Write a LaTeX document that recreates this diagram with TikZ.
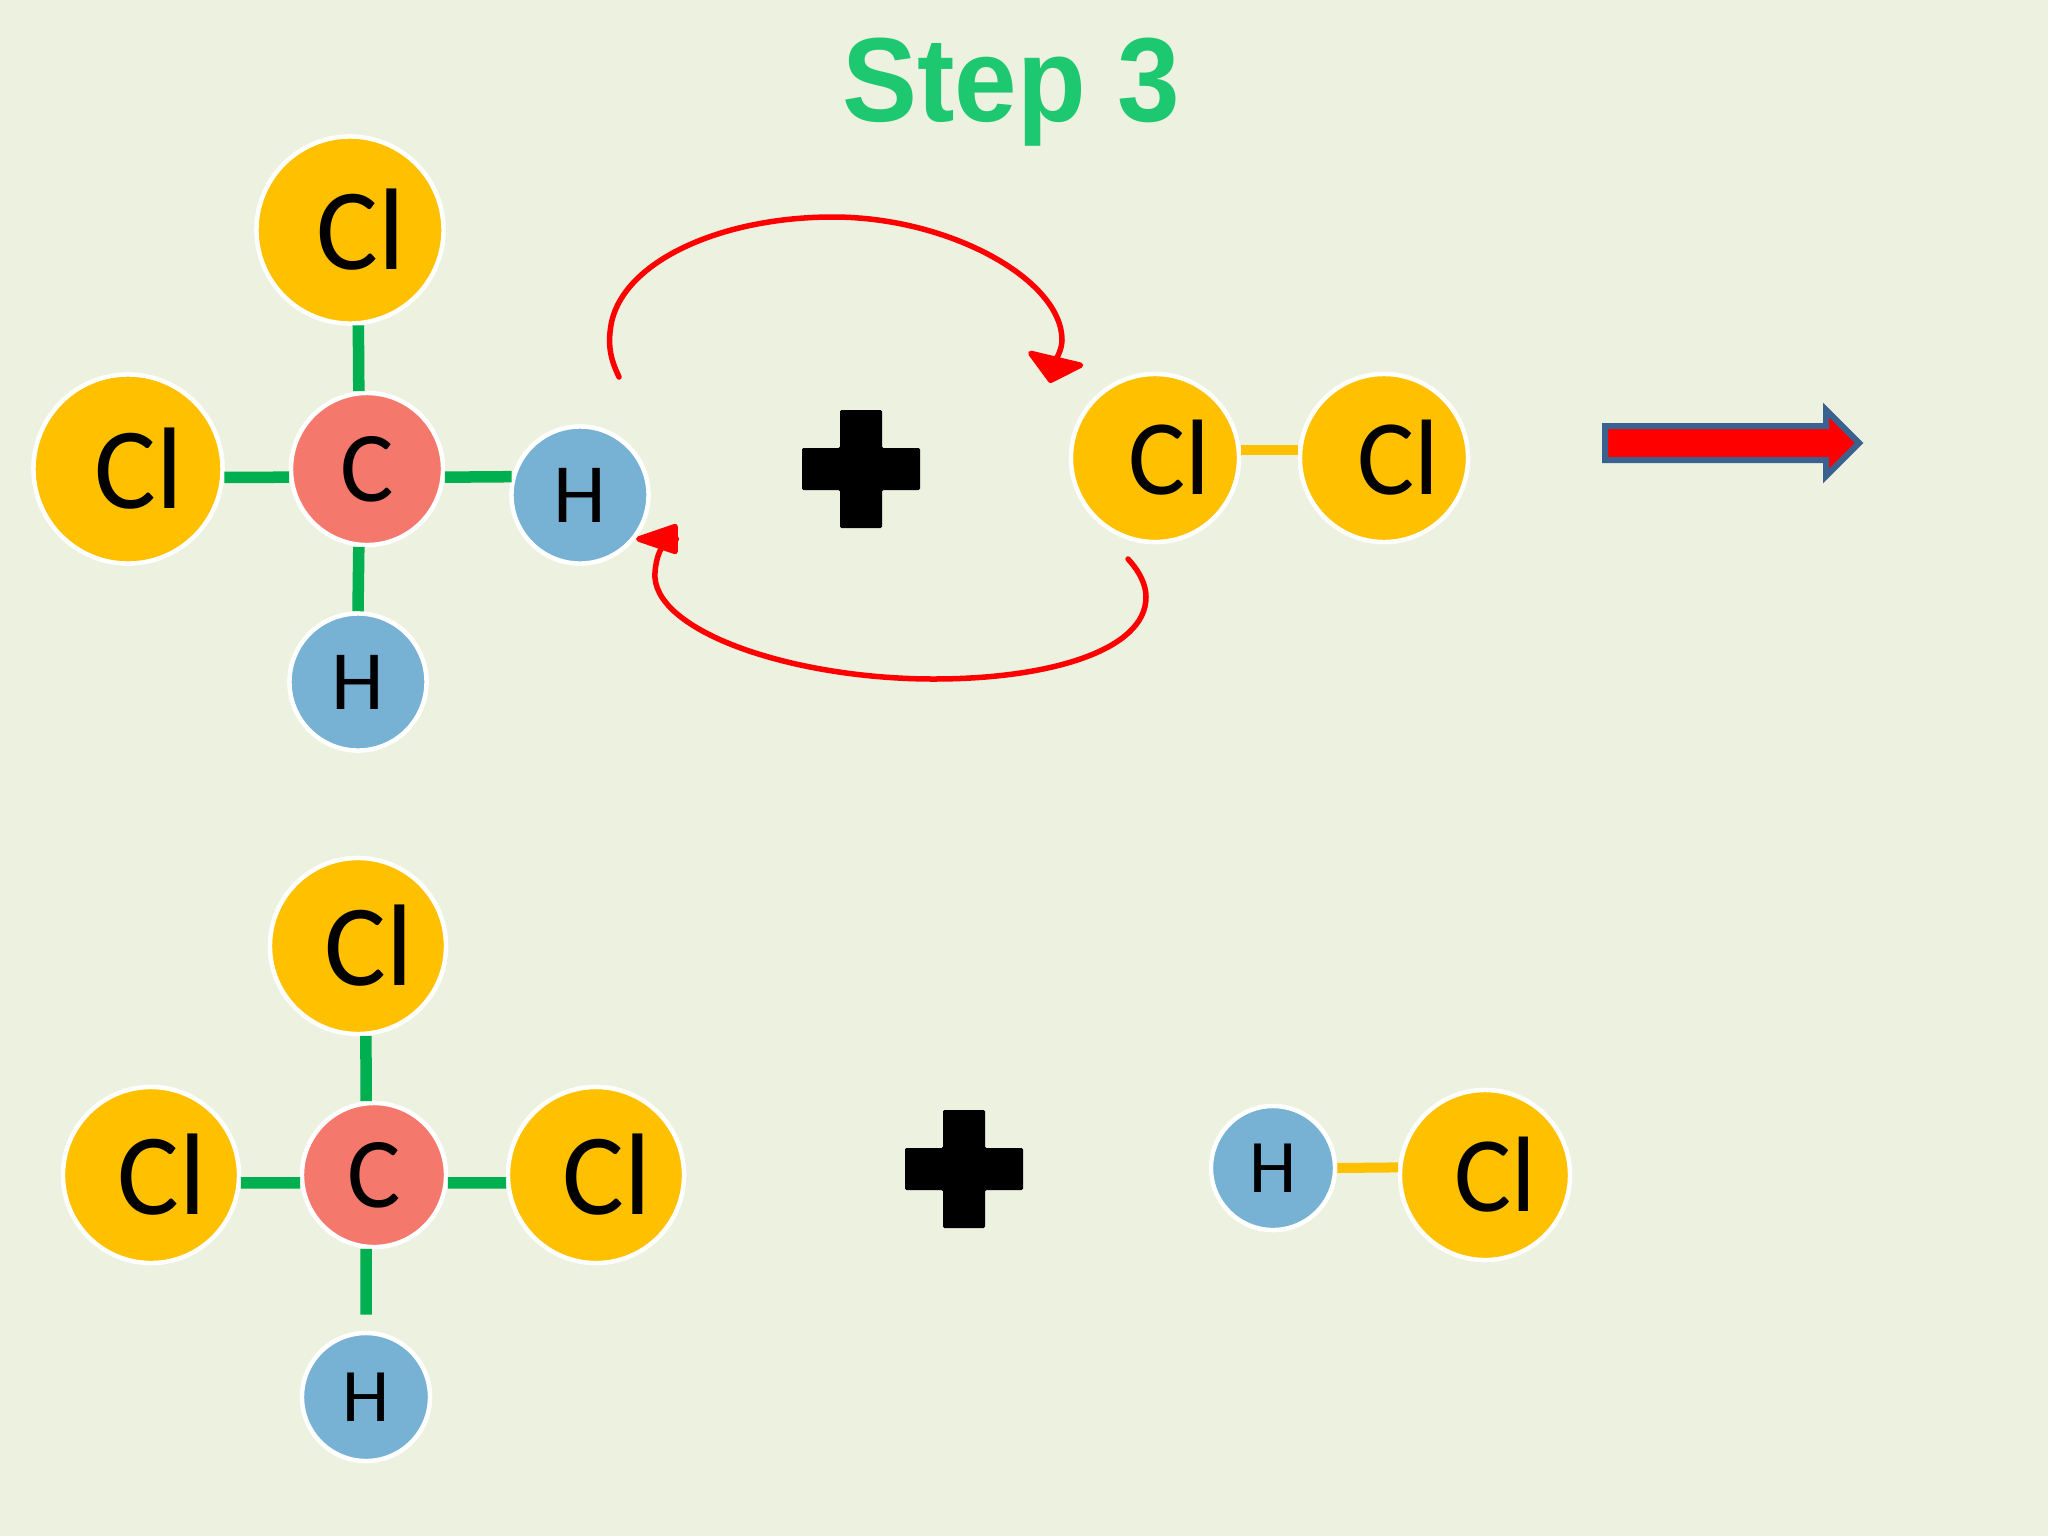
\documentclass[tikz,border=0pt]{standalone}
\usepackage{fontspec}
\setmainfont{Carlito}
\newfontfamily\titlefont{Liberation Sans}
\usepackage{xcolor}
\usetikzlibrary{
  arrows.meta
}
\definecolor{slidebg}{RGB}{237,241,223}
\definecolor{chlorinegold}{RGB}{255,192,0}
\definecolor{carbonred}{RGB}{244,121,108}
\definecolor{hydrogenblue}{RGB}{119,177,211}
\definecolor{bondgreen}{RGB}{0,176,80}
\definecolor{titlegreen}{RGB}{30,200,112}
\definecolor{edgeblue}{RGB}{58,98,145}
\tikzset{
  atom/.style={
    circle,
    draw=white,
    line width=0.045cm,
    text=black,
    inner sep=0pt
  },
  clatom/.style={atom,fill=chlorinegold,font=\fontsize{33}{33}\selectfont},
  clpairatom/.style={atom,fill=chlorinegold,font=\fontsize{30.5}{31}\selectfont},
  catom/.style={atom,fill=carbonred,font=\fontsize{28.5}{29}\selectfont},
  hatom/.style={atom,fill=hydrogenblue,font=\fontsize{24}{24}\selectfont},
  hsmall/.style={atom,fill=hydrogenblue,font=\fontsize{21.5}{22}\selectfont},
  greenbond/.style={line width=0.115cm,draw=bondgreen},
  goldbond/.style={line width=0.1cm,draw=chlorinegold},
  swaparrow/.style={line width=0.055cm,draw=red,line cap=round,line join=round},
  crossmark/.pic={
    \fill[black,rounded corners=0.4pt]
      (-21,-59) -- (21,-59) -- (21,-21) -- (59,-21) -- (59,21) -- (21,21)
      -- (21,59) -- (-21,59) -- (-21,21) -- (-59,21) -- (-59,-21) -- (-21,-21) -- cycle;
  }
}
\begin{document}
\begin{tikzpicture}[x=0.01cm,y=-0.01cm]
  \fill[slidebg] (0,0) rectangle (2048,1536);
  \useasboundingbox (0,0) rectangle (2048,1536);

  \node[font=\titlefont\bfseries\fontsize{34}{34}\selectfont,text=titlegreen,xscale=0.94,transform shape] (steptitle) at (1011,92) {Step 3};

  \node[clatom,minimum size=1.87cm] (cltop) at (350,230) {\kern6pt Cl};
  \node[clatom,minimum size=1.89cm] (clleft) at (128,469) {\kern6pt Cl};
  \node[catom,minimum size=1.52cm] (ctop) at (367,469) {C};
  \node[hatom,minimum size=1.37cm] (hright) at (580,495) {H};
  \node[hatom,minimum size=1.37cm] (hlow) at (358,682) {H};
  \node[clpairatom,minimum size=1.68cm] (clone) at (1155,458) {\kern8pt Cl};
  \node[clpairatom,minimum size=1.68cm] (cltwo) at (1384,458) {\kern8pt Cl};

  \draw[greenbond] (cltop.-85) -- (ctop.96.8);
  \draw[greenbond] (clleft.-5) -- (ctop.186.3);
  \draw[greenbond] (ctop.-6.3) -- (hright.165);
  \draw[greenbond] (ctop.-96.8) -- (hlow.north);
  \draw[goldbond] (clone.5) -- (cltwo.175);

  \coordinate (upstart) at (619,377);
  \coordinate (uptip) at (1050,383);
  \coordinate (lowstart) at (1128,559);
  \coordinate (lowtip) at (636,539);
  \draw[swaparrow,-{Triangle[length=0.28cm,width=0.65cm,round]}] (upstart)
    .. controls (612,362) and (607,348) .. (611,325)
    .. controls (622,262) and (720,217) .. (833,217)
    .. controls (950,217) and (1062,280) .. (1062,340)
    .. controls (1062,350) and (1055,362) .. (uptip);
  \draw[swaparrow,-{Triangle[length=0.48cm,width=0.31cm,round]}] (lowstart)
    .. controls (1140,572) and (1146,585) .. (1146,597)
    .. controls (1146,650) and (1050,679) .. (934,679)
    .. controls (790,679) and (650,630) .. (655,572)
    .. controls (656,560) and (660,539) .. (lowtip);

  \pic at (861,469) {crossmark};
  \pic at (964,1169) {crossmark};

  \draw[line width=0.06cm,draw=edgeblue,fill=red,miter limit=4] (1605,426) -- (1826,426) -- (1826,410)
    -- (1859,443) -- (1826,476) -- (1826,460) -- (1605,460) -- cycle;

  \node[clatom,minimum size=1.76cm] (cltopb) at (358,946) {\kern6pt Cl};
  \node[clatom,minimum size=1.76cm] (clleftb) at (151,1175) {\kern6pt Cl};
  \node[catom,minimum size=1.44cm] (cbot) at (374,1175) {C};
  \node[clatom,minimum size=1.76cm] (clrightb) at (596,1175) {\kern6pt Cl};
  \node[hsmall,minimum size=1.28cm] (hlowb) at (366,1397) {H};
  \node[hsmall,minimum size=1.24cm] (hpair) at (1273,1168) {H};
  \node[clpairatom,minimum size=1.70cm] (clpair) at (1485,1175) {\kern6pt Cl};

  \draw[greenbond] (cltopb.-85) -- (cbot.96.5);
  \draw[greenbond] (clleftb.-5) -- (cbot.186.1);
  \draw[greenbond] (cbot.-6.1) -- (clrightb.185);
  \draw[greenbond,shorten >=0.16cm] (cbot.-96.5) -- (hlowb.north);
  \draw[goldbond] (hpair.east) -- (clpair.175.3);
\end{tikzpicture}
\end{document}
